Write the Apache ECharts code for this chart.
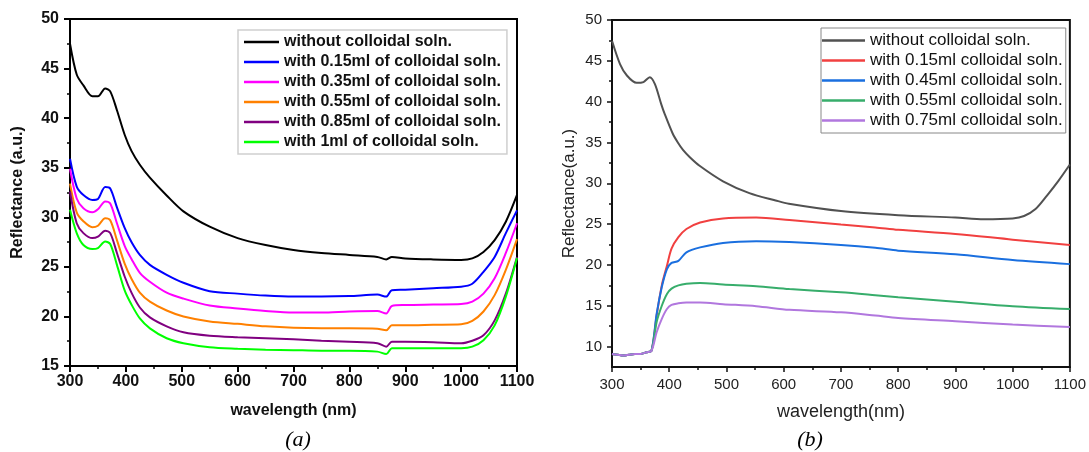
<!DOCTYPE html>
<html>
<head>
<meta charset="utf-8">
<script src="https://cdn.jsdelivr.net/npm/echarts@6/dist/echarts.min.js"></script>
<style>
html, body { margin: 0; padding: 0; background: #fff; }
#chart { width: 1089px; height: 452px; }
</style>
</head>
<body>
<div id="chart"></div>
<script>
// panel (a)
var waveA = [300, 312, 324, 340, 350, 363, 372, 384, 398, 410, 425, 443, 473, 503, 550, 600, 650, 700, 750, 800, 850, 866, 876, 900, 950, 1000, 1020, 1040, 1060, 1080, 1100];
var namesA = ["without colloidal soln.", "with 0.15ml of colloidal soln.", "with 0.35ml of colloidal soln.", "with 0.55ml of colloidal soln.", "with 0.85ml of colloidal soln.", "with 1ml of colloidal soln."];
var colorsA = ["#000000", "#0000ff", "#ff00ff", "#ff8000", "#800080", "#00ff00"];
var noneA = [47.5, 44.4, 43.3, 42.2, 42.2, 43.0, 42.7, 40.8, 38.3, 36.7, 35.3, 34.0, 32.2, 30.6, 29.05, 27.9, 27.2, 26.7, 26.4, 26.2, 26.0, 25.75, 26.0, 25.85, 25.75, 25.7, 25.85, 26.5, 27.7, 29.55, 32.25];
var ml015A = [35.9, 33.1, 32.25, 31.75, 31.85, 33.05, 32.9, 31.0, 28.9, 27.5, 26.2, 25.2, 24.2, 23.4, 22.55, 22.3, 22.1, 22.0, 22.0, 22.05, 22.2, 22.0, 22.65, 22.7, 22.85, 23.0, 23.3, 24.5, 26.0, 28.4, 30.7];
var ml035A = [34.9, 31.9, 30.9, 30.5, 30.8, 31.6, 31.4, 29.4, 27.1, 25.8, 24.4, 23.5, 22.4, 21.8, 21.1, 20.8, 20.55, 20.4, 20.4, 20.5, 20.55, 20.3, 21.05, 21.15, 21.2, 21.25, 21.5, 22.3, 23.85, 26.4, 29.4];
var ml055A = [33.4, 30.5, 29.6, 29.0, 29.15, 29.9, 29.7, 27.7, 25.3, 23.8, 22.4, 21.5, 20.6, 20.0, 19.5, 19.25, 19.0, 18.85, 18.8, 18.8, 18.75, 18.6, 19.1, 19.1, 19.15, 19.2, 19.55, 20.5, 22.15, 24.7, 27.8];
var ml085A = [32.6, 29.4, 28.4, 27.9, 28.05, 28.65, 28.4, 26.4, 24.0, 22.4, 20.9, 19.9, 19.0, 18.4, 18.05, 17.9, 17.8, 17.7, 17.55, 17.45, 17.3, 16.95, 17.45, 17.45, 17.4, 17.3, 17.55, 18.1, 19.6, 22.3, 26.0];
var ml1A = [30.75, 28.4, 27.2, 26.8, 26.9, 27.55, 27.3, 25.2, 22.6, 21.2, 19.8, 18.8, 17.8, 17.3, 16.9, 16.75, 16.65, 16.6, 16.55, 16.55, 16.45, 16.2, 16.8, 16.8, 16.8, 16.8, 16.95, 17.6, 19.1, 22.0, 25.9];
var valuesA = [noneA, ml015A, ml035A, ml055A, ml085A, ml1A];

// panel (b)
var waveGrayB = [300, 314, 326, 343, 355, 366, 375, 386, 392, 406, 415, 424, 436, 453, 494, 540, 586, 609, 700, 800, 900, 950, 1000, 1020, 1040, 1060, 1080, 1100];
var noneB = [47.45, 44.6, 43.2, 42.3, 42.4, 43.0, 42.15, 39.7, 38.5, 36.1, 35.0, 34.1, 33.2, 32.15, 30.25, 28.8, 27.9, 27.5, 26.6, 26.1, 25.8, 25.6, 25.7, 26.0, 26.85, 28.5, 30.3, 32.3];
var waveB = [300, 310, 320, 330, 340, 350, 360, 369, 378, 387, 396, 404, 416, 430, 454, 494, 552, 610, 700, 760, 800, 900, 1000, 1100];
var ml015B = [9.1, 9.0, 8.9, 9.0, 9.1, 9.1, 9.3, 9.5, 13.8, 17.5, 19.9, 22.0, 23.4, 24.4, 25.2, 25.7, 25.8, 25.5, 24.95, 24.6, 24.3, 23.8, 23.1, 22.45];
var ml045B = [9.1, 9.0, 8.9, 9.0, 9.1, 9.1, 9.3, 9.5, 14.0, 17.3, 19.5, 20.25, 20.5, 21.55, 22.15, 22.7, 22.9, 22.8, 22.45, 22.1, 21.75, 21.3, 20.6, 20.1];
var ml055B = [9.1, 9.0, 8.9, 9.0, 9.1, 9.1, 9.3, 9.5, 13.0, 15.0, 16.45, 17.1, 17.5, 17.7, 17.8, 17.6, 17.4, 17.05, 16.65, 16.3, 16.05, 15.5, 14.95, 14.6];
var ml075B = [9.1, 9.0, 8.9, 9.0, 9.1, 9.1, 9.3, 9.5, 11.75, 13.4, 14.6, 15.1, 15.3, 15.4, 15.4, 15.2, 14.95, 14.5, 14.2, 13.8, 13.5, 13.1, 12.7, 12.4];
var namesB = ["without colloidal soln.", "with 0.15ml colloidal soln.", "with 0.45ml colloidal soln.", "with 0.55ml colloidal soln.", "with 0.75ml colloidal soln."];
var colorsB = ["#515151", "#f14040", "#1a6fdf", "#37ad6b", "#b177de"];

var yTicksB = [10, 15, 20, 25, 30, 35, 40, 45, 50];
var yMinorB = [12.5, 17.5, 22.5, 27.5, 32.5, 37.5, 42.5, 47.5];

function pairs(xs, ys) {
    return xs.map(function (x, i) { return [x, ys[i]]; });
}
function plain(v) { return String(v); }

var fontA = "'Liberation Sans', Arial, sans-serif";
var series = [];
valuesA.forEach(function (vals, i) {
    series.push({
        name: "a:" + namesA[i], type: "line", xAxisIndex: 0, yAxisIndex: 0,
        data: pairs(waveA, vals), symbol: "none", smooth: 0.3,
        lineStyle: { color: colorsA[i], width: 2 }, itemStyle: { color: colorsA[i] }
    });
});
var dataB = [pairs(waveGrayB, noneB), pairs(waveB, ml015B), pairs(waveB, ml045B), pairs(waveB, ml055B), pairs(waveB, ml075B)];
dataB.forEach(function (d, i) {
    series.push({
        name: "b:" + namesB[i], type: "line", xAxisIndex: 1, yAxisIndex: 1,
        data: d, symbol: "none", smooth: 0.3,
        lineStyle: { color: colorsB[i], width: 2 }, itemStyle: { color: colorsB[i] }
    });
});

var dom = document.getElementById("chart");
var myChart = echarts.init(dom, null, { renderer: "canvas" });
var option = {
    animation: false,
    backgroundColor: "#fff",
    title: [
        { text: "(a)", left: 293, top: 424, textAlign: "center",
          textStyle: { fontFamily: "'Liberation Serif', serif", fontStyle: "italic", fontWeight: "normal", fontSize: 22, color: "#000" } },
        { text: "(b)", left: 805, top: 424, textAlign: "center",
          textStyle: { fontFamily: "'Liberation Serif', serif", fontStyle: "italic", fontWeight: "normal", fontSize: 22, color: "#000" } }
    ],
    legend: [{
        data: namesA.map(function (n) { return "a:" + n; }),
        formatter: function (n) { return n.slice(2); },
        orient: "vertical", left: 238, top: 30,
        icon: "rect", itemWidth: 35, itemHeight: 2.5, itemGap: 4, itemTextGap: 4,
        padding: [4, 6, 4, 6],
        borderColor: "#cfcfcf", borderWidth: 1.5,
        selectedMode: false,
        textStyle: { fontFamily: fontA, fontWeight: "bold", fontSize: 16, lineHeight: 16, color: "#111" }
    }, {
        data: namesB.map(function (n) { return "b:" + n; }),
        formatter: function (n) { return n.slice(2); },
        orient: "vertical", left: 821, top: 28,
        icon: "rect", itemWidth: 43, itemHeight: 2.5, itemGap: 3, itemTextGap: 2,
        padding: [4, 3, 4, 1],
        borderColor: "#888", borderWidth: 1,
        selectedMode: false,
        textStyle: { fontFamily: fontA, fontSize: 17, lineHeight: 17, color: "#111" }
    }],
    grid: [
        { left: 70, top: 19, width: 447, height: 347, show: true, borderColor: "#000", borderWidth: 2, backgroundColor: "transparent" },
        { left: 612, top: 20, width: 460, height: 347, show: true, borderColor: "#111", borderWidth: 2, backgroundColor: "transparent" }
    ],
    xAxis: [{
        gridIndex: 0, type: "value", min: 300, max: 1100, interval: 100,
        name: "wavelength (nm)", nameLocation: "middle", nameGap: 37,
        nameTextStyle: { fontFamily: fontA, fontWeight: "bold", fontSize: 16, color: "#111" },
        axisLine: { lineStyle: { color: "#000", width: 2 } },
        axisTick: { inside: false, length: 6, lineStyle: { color: "#000", width: 2 } },
        minorTick: { show: true, splitNumber: 2, length: 3, lineStyle: { color: "#000", width: 1.5 } },
        axisLabel: { margin: 8, formatter: plain, fontFamily: fontA, fontWeight: "bold", fontSize: 16, color: "#111" },
        splitLine: { show: false }
    }, {
        gridIndex: 1, type: "value", min: 300, max: 1100, interval: 100,
        name: "wavelength(nm)", nameLocation: "middle", nameGap: 36,
        nameTextStyle: { fontFamily: fontA, fontSize: 18, color: "#222" },
        axisLine: { lineStyle: { color: "#111", width: 2 } },
        axisTick: { inside: false, length: 5, lineStyle: { color: "#111", width: 1.5 } },
        minorTick: { show: true, splitNumber: 2, length: 3, lineStyle: { color: "#111", width: 1.5 } },
        axisLabel: { margin: 10, formatter: plain, fontFamily: fontA, fontSize: 15, color: "#222" },
        splitLine: { show: false }
    }],
    yAxis: [{
        gridIndex: 0, type: "value", min: 15, max: 50, interval: 5,
        name: "Reflectance (a.u.)", nameLocation: "middle", nameGap: 44,
        nameTextStyle: { fontFamily: fontA, fontWeight: "bold", fontSize: 16, color: "#111" },
        axisLine: { lineStyle: { color: "#000", width: 2 } },
        axisTick: { inside: false, length: 6, lineStyle: { color: "#000", width: 2 } },
        minorTick: { show: true, splitNumber: 2, length: 3, lineStyle: { color: "#000", width: 1.5 } },
        axisLabel: { margin: 11, fontFamily: fontA, fontWeight: "bold", fontSize: 16, color: "#111" },
        splitLine: { show: false }
    }, {
        gridIndex: 1, type: "value", min: 7.5, max: 50, position: "left",
        name: "Reflectance(a.u.)", nameLocation: "middle", nameGap: 34,
        nameTextStyle: { fontFamily: fontA, fontSize: 17, color: "#222" },
        axisLine: { lineStyle: { color: "#111", width: 2 } },
        axisTick: { inside: false, length: 5, customValues: yTicksB, lineStyle: { color: "#111", width: 1.5 } },
        axisLabel: { margin: 10, customValues: yTicksB, fontFamily: fontA, fontSize: 15, color: "#222" },
        splitLine: { show: false }
    }, {
        gridIndex: 1, type: "value", min: 7.5, max: 50, position: "left", offset: 0,
        axisLine: { show: false },
        axisTick: { inside: false, length: 3, customValues: yMinorB, lineStyle: { color: "#111", width: 1.5 } },
        axisLabel: { show: false },
        splitLine: { show: false }
    }],
    series: series
};
option && "object" == typeof option && myChart.setOption(option, !0);
</script>
</body>
</html>
